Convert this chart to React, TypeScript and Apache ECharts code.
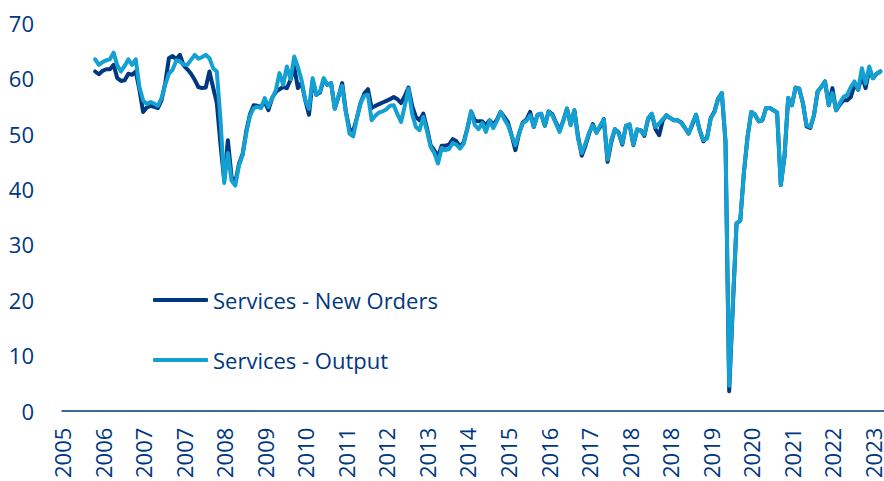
import React, { useEffect, useRef } from "react";
import * as echarts from "echarts";

// Monthly category axis: Mar 2005 .. Oct 2023
const startYear = 2005;
const startMonth = 3;
const monthCount = 224;
const categories: string[] = [];
for (let k = 0; k < monthCount; k++) {
  const m = startMonth - 1 + k;
  const y = startYear + Math.floor(m / 12);
  const mm = (m % 12) + 1;
  categories.push(`${y}-${String(mm).padStart(2, "0")}`);
}
const firstDataMonth = "2005-12";

const seriesNames = ["Services - New Orders", "Services - Output"];

const newOrders = [
  61.2, 60.7, 61.3, 61.6, 61.6, 62.4, 60.0, 59.5, 59.6, 60.8, 60.6, 61.2,
  57.9, 53.9, 54.7, 55.0, 54.8, 54.6, 56.0, 59.1, 63.6, 64.0, 63.4, 64.2,
  62.3, 61.6, 60.8, 59.7, 58.4, 58.2, 58.3, 61.2, 58.3, 55.5, 48.0, 41.6,
  48.8, 42.2, 41.2, 44.5, 46.3, 50.5, 53.5, 55.1, 55.0, 54.8, 55.8, 54.2,
  56.4, 57.5, 58.0, 58.4, 58.2, 59.7, 62.0, 58.2, 59.2, 56.0, 53.4, 59.6,
  57.0, 57.4, 59.8, 58.8, 59.1, 54.5, 56.6, 59.1, 54.0, 50.8, 50.5, 52.8,
  55.5, 57.2, 58.0, 54.6, 55.0, 55.3, 55.6, 55.9, 56.2, 56.6, 56.2, 55.5,
  56.8, 58.3, 55.0, 53.0, 52.4, 53.6, 51.0, 47.9, 47.0, 45.8, 47.8, 47.8,
  48.0, 49.0, 48.6, 47.6, 48.5, 51.0, 54.0, 52.3, 52.2, 52.2, 51.5, 52.4,
  51.6, 52.5, 53.9, 53.0, 52.0, 49.6, 47.0, 50.0, 52.0, 52.5, 53.9, 51.2,
  53.4, 53.5, 51.4, 54.0, 53.5, 52.0, 50.6, 52.3, 54.5, 51.6, 54.2, 49.5,
  46.0, 47.8, 50.0, 51.7, 50.2, 51.2, 52.6, 44.9, 48.4, 50.8, 50.2, 48.0,
  51.4, 51.5, 47.9, 50.6, 50.6, 49.6, 52.6, 53.5, 50.8, 49.7, 52.4, 53.3,
  52.8, 52.4, 52.4, 52.0, 51.0, 50.0, 51.6, 53.4, 50.6, 48.6, 49.3, 52.8,
  54.0, 56.3, 57.3, 48.5, 3.5, 19.0, 33.8, 34.3, 43.0, 49.5, 53.9, 53.4,
  52.2, 52.4, 54.6, 54.6, 54.2, 53.8, 40.7, 45.8, 56.4, 55.1, 58.3, 58.1,
  55.5, 51.3, 51.0, 53.3, 57.6, 58.4, 59.4, 55.1, 58.2, 54.2, 55.2, 56.0,
  56.0, 56.6, 58.8, 57.9, 60.5, 58.2, 61.5, 60.0, 60.8, 61.2,
];

const output = [
  63.4, 62.4, 62.9, 63.2, 63.4, 64.6, 62.3, 61.2, 62.2, 63.4, 62.4, 63.4,
  58.4, 56.0, 55.3, 55.7, 55.4, 55.0, 56.4, 58.8, 60.8, 61.5, 63.2, 63.0,
  62.4, 62.4, 63.3, 64.2, 63.5, 63.8, 64.2, 63.6, 61.8, 61.2, 52.5, 41.1,
  46.5, 41.5, 40.6, 44.2, 46.1, 50.1, 53.2, 54.6, 54.8, 54.6, 56.4, 54.8,
  56.4, 57.8, 60.9, 58.8, 62.1, 59.8, 63.9, 62.0, 59.6, 56.0, 54.5, 60.0,
  57.0, 57.6, 60.0, 58.8, 59.1, 54.5, 56.8, 58.6, 53.9, 50.0, 49.5, 52.8,
  55.5, 56.8, 57.0, 52.4, 53.2, 53.8, 54.0, 54.4, 55.0, 55.1, 53.5, 52.1,
  55.0, 58.1, 53.5, 51.2, 50.6, 53.0, 50.5, 47.6, 46.5, 44.6, 47.4, 47.0,
  47.2, 48.3, 48.0, 47.3, 48.2, 51.0, 54.0, 51.5, 50.8, 51.9, 50.3, 52.3,
  51.0, 52.3, 53.9, 52.6, 51.5, 49.6, 47.9, 50.0, 51.9, 52.3, 53.3, 51.2,
  53.4, 53.6, 51.4, 53.9, 53.3, 51.8, 50.3, 52.3, 54.5, 51.5, 54.2, 49.0,
  46.5, 48.2, 50.2, 51.5, 50.1, 51.5, 52.5, 45.3, 48.8, 50.8, 50.0, 48.2,
  51.4, 51.7, 48.0, 50.8, 50.5, 49.8, 52.8, 53.6, 51.2, 51.8, 52.6, 53.3,
  52.8, 52.4, 52.4, 51.9, 51.0, 50.0, 51.8, 53.4, 50.6, 48.8, 49.1, 52.8,
  53.8, 56.3, 57.3, 48.8, 4.5, 19.5, 33.8, 34.3, 43.0, 49.5, 53.9, 53.4,
  52.2, 52.4, 54.6, 54.6, 54.2, 53.8, 40.7, 45.8, 56.4, 55.1, 58.3, 58.1,
  55.5, 51.5, 51.2, 53.3, 57.6, 58.4, 59.4, 55.1, 57.3, 54.2, 55.5, 56.6,
  57.0, 58.4, 59.4, 57.9, 61.8, 59.0, 62.1, 60.0, 60.8, 61.2,
];

const yMin = 0;
const yMax = 70;
const yInterval = 10;

const NAVY = "#003781";
const LIGHT = "#13A0D3";
const FONT = "Open Sans";

function align(values: number[]): (number | null)[] {
  const lead = categories.indexOf(firstDataMonth);
  return categories.map((_, k) =>
    k >= lead && k - lead < values.length ? values[k - lead] : null
  );
}

export default function App() {
  const ref = useRef<HTMLDivElement>(null);
  useEffect(() => {
    if (!ref.current) return;
    const chart = echarts.init(ref.current, undefined, { renderer: "svg" });
    const legendBase = {
      orient: "horizontal",
      left: 148,
      itemWidth: 55,
      itemHeight: 4,
      icon: "roundRect",
      itemGap: 0,
      textStyle: { fontSize: 22, color: NAVY, fontFamily: FONT },
    };
    chart.setOption({
      animation: false,
      backgroundColor: "#ffffff",
      textStyle: { fontFamily: FONT },
      grid: { left: 62, right: 0, top: 22.7, bottom: 70, containLabel: false },
      legend: [
        { ...legendBase, top: 284, data: [seriesNames[0]] },
        { ...legendBase, top: 344, data: [seriesNames[1]] },
      ],
      xAxis: {
        type: "category",
        data: categories,
        boundaryGap: false,
        axisLine: { show: true, lineStyle: { color: NAVY, width: 1.5 } },
        axisTick: { show: false },
        splitLine: { show: false },
        axisLabel: {
          interval: 10,
          rotate: 90,
          margin: 17,
          fontSize: 22,
          lineHeight: 16,
          color: NAVY,
          fontFamily: FONT,
          formatter: (v: string) => v.slice(0, 4),
        },
      },
      yAxis: {
        type: "value",
        min: yMin,
        max: yMax,
        interval: yInterval,
        axisLine: { show: false },
        axisTick: { show: false },
        splitLine: { show: false },
        axisLabel: { fontSize: 22, color: NAVY, fontFamily: FONT, margin: 28 },
      },
      series: [
        {
          name: seriesNames[0],
          type: "line",
          data: align(newOrders),
          symbol: "none",
          connectNulls: false,
          itemStyle: { color: NAVY },
          lineStyle: { color: NAVY, width: 4, cap: "round", join: "round" },
        },
        {
          name: seriesNames[1],
          type: "line",
          data: align(output),
          symbol: "none",
          connectNulls: false,
          itemStyle: { color: LIGHT },
          lineStyle: { color: LIGHT, width: 4, cap: "round", join: "round" },
        },
      ],
    });
    return () => chart.dispose();
  }, []);
  return (
    <div
      ref={ref}
      style={{ position: "absolute", left: 0, top: 0, width: 884, height: 481 }}
    />
  );
}
